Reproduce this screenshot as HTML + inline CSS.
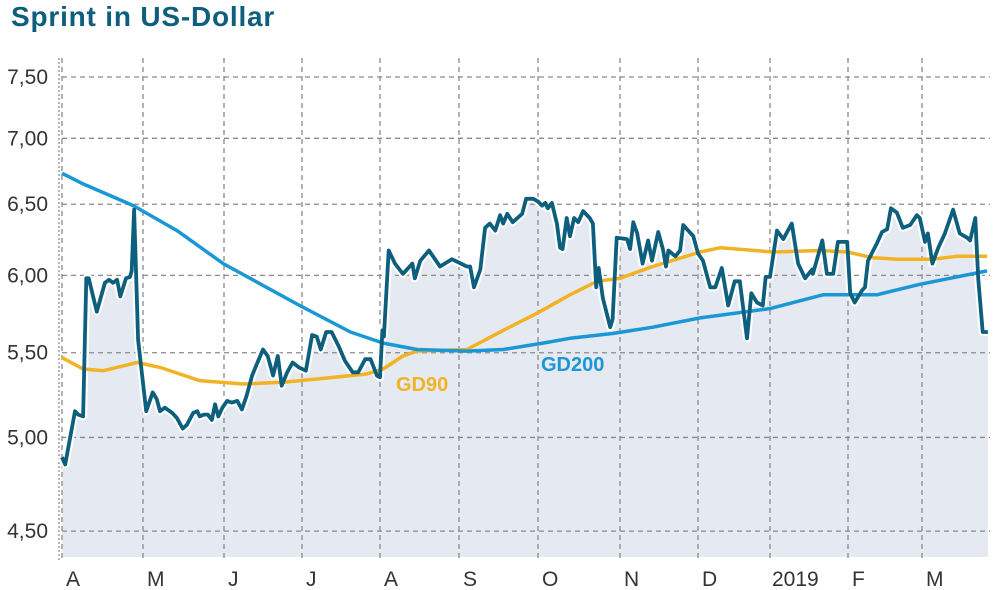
<!DOCTYPE html>
<html><head><meta charset="utf-8"><style>
html,body{margin:0;padding:0;background:#fff;}
svg{display:block;font-family:"Liberation Sans",sans-serif;}
</style></head><body>
<svg id="chart" width="1000" height="590" viewBox="0 0 1000 590">
<text x="11" y="26" font-size="28" font-weight="bold" fill="#0d5f7d" letter-spacing="0.8">Sprint in US-Dollar</text>
<g id="grid"></g>
<g id="series"></g>
<g id="axes"></g>
<text x="396" y="391" font-size="20" font-weight="bold" fill="#f1b224">GD90</text>
<text x="541" y="371" font-size="20" font-weight="bold" fill="#1a97d4">GD200</text>
</svg>
<script>
// Month positions (t = months since 1 Apr 2018)
const monthLabels = ["A","M","J","J","A","S","O","N","D","2019","F","M"];
const yTicks = [4.5,5.0,5.5,6.0,6.5,7.0,7.5];
const yTickLabels = ["4,50","5,00","5,50","6,00","6,50","7,00","7,50"];
const priceT = [0,.04,.16,.20,.26,.30,.33,.43,.53,.58,.63,.68,.72,.79,.84,.86,.89,.91,.94,1.04,1.12,1.17,1.21,1.27,1.36,1.42,1.49,1.54,1.62,1.67,1.70,1.75,1.80,1.85,1.89,1.93,1.98,2.04,2.10,2.17,2.23,2.29,2.36,2.42,2.50,2.56,2.63,2.69,2.74,2.81,2.88,2.96,3.05,3.13,3.19,3.24,3.31,3.38,3.47,3.55,3.65,3.72,3.81,3.88,3.96,4.00,4.03,4.05,4.11,4.19,4.29,4.41,4.44,4.51,4.62,4.76,4.91,5.10,5.14,5.19,5.27,5.33,5.39,5.46,5.52,5.56,5.61,5.68,5.80,5.85,5.94,6.00,6.05,6.09,6.12,6.17,6.23,6.27,6.30,6.35,6.39,6.44,6.49,6.55,6.63,6.67,6.71,6.74,6.79,6.88,6.91,6.96,7.09,7.13,7.17,7.22,7.29,7.36,7.41,7.49,7.55,7.59,7.62,7.71,7.77,7.81,7.94,8.00,8.07,8.17,8.24,8.33,8.42,8.51,8.58,8.68,8.74,8.82,8.90,8.94,9.00,9.09,9.17,9.28,9.36,9.45,9.54,9.55,9.67,9.73,9.81,9.87,9.99,10.03,10.09,10.19,10.23,10.27,10.39,10.46,10.53,10.58,10.66,10.74,10.84,10.93,10.97,11.04,11.08,11.14,11.22,11.31,11.42,11.51,11.61,11.65,11.72,11.76,11.82,11.89];
const priceV = [4.89,4.85,5.15,5.13,5.12,5.98,5.98,5.76,5.95,5.97,5.95,5.97,5.86,5.98,5.99,6.03,6.46,6.10,5.58,5.15,5.26,5.22,5.15,5.17,5.14,5.11,5.05,5.07,5.14,5.15,5.12,5.13,5.13,5.10,5.19,5.12,5.17,5.21,5.20,5.21,5.16,5.24,5.36,5.43,5.52,5.48,5.36,5.48,5.30,5.38,5.44,5.41,5.39,5.61,5.60,5.52,5.63,5.63,5.54,5.45,5.38,5.38,5.46,5.46,5.36,5.35,5.64,5.60,6.17,6.08,6.01,6.08,5.98,6.10,6.17,6.06,6.11,6.06,6.06,5.92,6.04,6.33,6.36,6.31,6.42,6.36,6.43,6.37,6.43,6.54,6.54,6.52,6.49,6.51,6.47,6.51,6.36,6.19,6.18,6.40,6.27,6.40,6.37,6.45,6.40,6.36,5.92,6.05,5.85,5.66,5.71,6.26,6.25,6.18,6.37,6.29,6.08,6.24,6.10,6.30,6.18,6.06,6.17,6.13,6.17,6.35,6.27,6.15,6.10,5.92,5.92,6.05,5.80,5.96,5.96,5.59,5.88,5.82,5.80,5.99,5.99,6.31,6.25,6.36,6.08,5.98,6.04,6.01,6.24,6.01,6.01,6.23,6.23,5.88,5.82,5.90,5.92,6.10,6.22,6.30,6.32,6.47,6.44,6.33,6.35,6.42,6.40,6.23,6.29,6.08,6.19,6.29,6.46,6.29,6.26,6.24,6.40,5.98,5.63,5.63];
const gd200T = [0,.10,.26,.88,1.42,1.99,2.97,3.62,4.04,4.47,5.10,5.56,6.06,6.39,6.91,7.42,8.03,9.00,9.68,10.39,10.97,11.88];
const gd200V = [6.73,6.70,6.65,6.49,6.31,6.08,5.80,5.63,5.56,5.52,5.51,5.52,5.56,5.59,5.62,5.66,5.72,5.78,5.87,5.87,5.94,6.03];
const gd90T = [0,.26,.51,.93,1.21,1.70,2.24,2.76,3.19,3.83,4.04,4.29,4.47,5.10,5.56,5.99,6.39,6.72,7.00,7.42,8.03,8.31,9.04,9.64,9.99,10.34,10.66,11.15,11.47,11.88];
const gd90V = [5.47,5.40,5.39,5.44,5.41,5.33,5.31,5.32,5.34,5.37,5.40,5.48,5.51,5.52,5.64,5.75,5.87,5.96,5.98,6.06,6.16,6.19,6.16,6.17,6.16,6.12,6.11,6.11,6.13,6.13];

// axis layout
const monthPx = [62,143,224,302,380,459,538,620,698,770,848,922,996];
const X0=62, X1=990, YB=557;
function xs(t){const i=Math.max(0,Math.min(11,Math.floor(t)));return monthPx[i]+(t-i)*(monthPx[i+1]-monthPx[i]);}
function ys(v){return 77+889*Math.log(7.5/v);}
const NS="http://www.w3.org/2000/svg";
function mk(tag,attrs,parent){const e=document.createElementNS(NS,tag);for(const k in attrs)e.setAttribute(k,attrs[k]);parent.appendChild(e);return e;}
const grid=document.getElementById('grid'),series=document.getElementById('series'),axes=document.getElementById('axes');

yTicks.forEach((v,i)=>{
  const y=ys(v);
  const t=mk('text',{x:48,y:y+7,'text-anchor':'end','font-size':21,fill:'#333'},axes);
  t.textContent=yTickLabels[i];
  
  
});
monthLabels.forEach((m,i)=>{
  const x=xs(i);
  const t=mk('text',{x:x+(i==9?2:4),y:586,'font-size':21,fill:'#333'},axes);
  t.textContent=m;
  
  
});
const l2=mk('line',{x1:X0-3,x2:X0-3,y1:58,y2:YB+3,stroke:'#8a8a8a','stroke-width':1.2,'stroke-dasharray':'2,2'},grid);



function pathD(T,V){return T.map((t,i)=>(i?'L':'M')+xs(t).toFixed(1)+','+ys(V[i]).toFixed(1)).join('');}
const pd=pathD(priceT,priceV);
const area=mk('path',{d:pd+'L'+xs(priceT[priceT.length-1]).toFixed(1)+','+YB+'L'+xs(priceT[0]).toFixed(1)+','+YB+'Z',fill:'#e5e9f1'},series);


yTicks.forEach(v=>{const y=ys(v);const l=mk('line',{x1:X0,x2:X1,y1:y,y2:y,stroke:'#8a8a8a','stroke-width':1.3,'stroke-dasharray':'5,4'},series);
  
  });
monthLabels.forEach((m,i)=>{const x=xs(i);const l=mk('line',{x1:x,x2:x,y1:58,y2:YB+3,stroke:'#8a8a8a','stroke-width':1.3,'stroke-dasharray':'5,4'},series);
  
  });
const halo=mk('path',{d:pd,fill:'none',stroke:'#fff','stroke-width':8,'stroke-linejoin':'round'},series);


const g90=mk('path',{d:pathD(gd90T,gd90V),fill:'none',stroke:'#f1b224','stroke-width':3.5,'stroke-linejoin':'round'},series);


const g200=mk('path',{d:pathD(gd200T,gd200V),fill:'none',stroke:'#1a97d4','stroke-width':3.5,'stroke-linejoin':'round'},series);


const pl=mk('path',{d:pd,fill:'none',stroke:'#0d5f7d','stroke-width':3.8,'stroke-linejoin':'round'},series);


</script>
</body></html>
